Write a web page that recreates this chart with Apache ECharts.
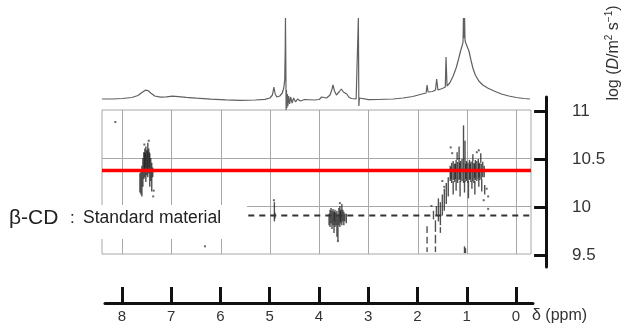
<!DOCTYPE html>
<html><head><meta charset="utf-8">
<script src="https://cdn.jsdelivr.net/npm/echarts@6/dist/echarts.min.js"></script>
<style>html,body{margin:0;padding:0;background:#fff}#c{width:621px;height:333px}</style>
</head><body><div id="c"></div>
<script>
// ---- data ----
const ppmTicks = [8, 7, 6, 5, 4, 3, 2, 1, 0];
const logDTicks = [9.5, 10, 10.5, 11];
const logDGrid = [10, 10.5];
const redLineLogD = 10.37;
const standardLogD = 9.9;
const standardFromPpm = 5.44;

// 1H spectrum trace [ppm, intensity]
const spectrum = [
[8.41,1],[8.2,1],[8.0,1.5],[7.8,2.5],[7.68,4.5],[7.6,7.5],[7.53,9.8],[7.48,9.5],[7.42,7],[7.34,4],[7.22,2.8],[7.1,3.2],[6.98,3.8],[6.86,3.4],[6.7,2.6],[6.5,1.8],[6.2,0.8],[5.9,0.2],[5.6,-0.3],[5.3,0],[5.1,0.6],[5.0,2],[4.95,5],[4.92,13],[4.895,6],[4.86,3],[4.8,4],[4.75,7],[4.72,12],[4.70,20],[4.69,50],[4.685,82],[4.678,40],[4.672,-10],[4.665,10],[4.655,-8],[4.645,6],[4.635,-6],[4.62,4],[4.60,-4],[4.58,3],[4.55,-3],[4.52,2],[4.48,-2],[4.44,1],[4.38,-1],[4.3,0.5],[4.1,0],[4.0,0.5],[3.97,1.5],[3.95,3],[3.93,1],[3.85,2],[3.78,5],[3.745,10],[3.72,15],[3.69,9],[3.65,5],[3.62,6],[3.59,8.5],[3.55,11],[3.51,8],[3.47,7.5],[3.44,6],[3.40,3],[3.35,1.5],[3.25,1],[3.215,0],[3.205,82],[3.195,-6],[3.185,2],[3.15,0],[3.0,0.3],[2.8,0.5],[2.5,1],[2.3,2],[2.1,3.5],[1.95,5.5],[1.83,7],[1.81,15],[1.79,8],[1.70,8.5],[1.64,10],[1.615,21],[1.59,10],[1.5,11.5],[1.44,13],[1.425,43],[1.405,14],[1.35,17],[1.28,24],[1.22,32],[1.17,41],[1.13,49],[1.10,54],[1.08,58],[1.072,82],[1.064,62],[1.055,60],[1.048,82],[1.04,60],[1.025,57],[1.0,55],[0.96,49],[0.92,40],[0.88,32],[0.83,25],[0.76,19],[0.68,15],[0.58,12],[0.45,9],[0.3,6],[0.15,4],[0,2.5],[-0.15,1.5],[-0.28,1]
];

// DOSY cross-peak streaks [ppm, logD low, logD high]
const streaksAromatic = [
[7.64,10.14,10.34],[7.62,10.12,10.38],[7.60,10.10,10.42],[7.58,10.20,10.50],[7.56,10.28,10.56],[7.54,10.30,10.60],[7.52,10.25,10.62],[7.50,10.32,10.58],[7.48,10.30,10.66],[7.46,10.34,10.60],[7.44,10.20,10.55],[7.42,10.26,10.50],[7.40,10.15,10.45],[7.38,10.30,10.40],[7.55,10.36,10.56],[7.49,10.36,10.58],[7.53,10.40,10.55],[7.45,10.40,10.56]
];
const streaksStdH1 = [
[4.91,9.84,10.04],[4.90,9.87,9.93]
];
const streaksStdRing = [
[3.80,9.80,9.92],[3.78,9.78,9.96],[3.76,9.82,9.98],[3.74,9.76,9.95],[3.72,9.80,9.97],[3.70,9.72,9.94],[3.68,9.78,9.96],[3.66,9.80,9.93],[3.64,9.68,9.95],[3.62,9.64,9.90],[3.60,9.80,9.98],[3.58,9.78,10.00],[3.56,9.82,9.96],[3.54,9.80,10.02],[3.52,9.84,9.96],[3.50,9.80,9.94],[3.48,9.84,9.92],[3.45,9.82,9.92],[3.69,9.84,9.94],[3.57,9.84,9.95]
];
const streaksAliphatic = [
[1.34,10.26,10.42],[1.31,10.24,10.45],[1.28,10.27,10.47],[1.25,10.25,10.44],[1.22,10.26,10.48],[1.19,10.24,10.46],[1.16,10.27,10.50],[1.13,10.25,10.47],[1.10,10.26,10.49],[1.07,10.24,10.84],[1.04,10.25,10.68],[1.01,10.26,10.47],[0.98,10.24,10.45],[0.95,10.27,10.48],[0.92,10.25,10.46],[0.89,10.26,10.47],[0.86,10.24,10.45],[0.83,10.27,10.48],[0.80,10.26,10.47],[0.77,10.28,10.49],[0.74,10.27,10.45],[0.71,10.28,10.44],[0.68,10.30,10.46],[0.65,10.30,10.42],
[1.325,10.28,10.40],[1.235,10.28,10.44],[1.145,10.28,10.45],[1.025,10.28,10.44],[0.935,10.28,10.44],[0.845,10.29,10.44],[0.755,10.30,10.44],
[1.28,10.12,10.26],[1.22,10.16,10.26],[1.14,10.10,10.26],[1.05,10.14,10.26],[0.97,10.08,10.26],[0.90,10.18,10.26],[0.84,10.12,10.26],[0.76,10.20,10.28],[0.70,10.15,10.28],[0.64,10.12,10.22],
[1.20,10.48,10.56],[0.88,10.47,10.54],[0.72,10.45,10.55],[1.16,10.49,10.62],
[1.38,10.10,10.30],[1.42,10.02,10.24],[1.46,9.95,10.18],[1.50,9.90,10.12],[1.54,9.80,10.04],[1.58,9.84,10.08],[1.62,9.90,10.00],[1.68,9.86,9.95],
[1.64,9.52,9.58],[1.64,9.61,9.70],[1.64,9.73,9.85],[1.81,9.52,9.57],[1.81,9.61,9.68],[1.81,9.72,9.79],[1.54,9.72,9.78],
[1.05,9.51,9.58],[1.03,9.51,9.56]
];
// isolated points [ppm, logD]
const dots = [
[7.46,10.68],[7.55,10.64],[7.37,10.10],[7.36,10.16],[4.92,10.06],[3.62,9.635],[3.58,10.03],
[1.33,10.61],[1.30,10.55],[0.80,10.56],[0.76,10.58],[0.60,10.18],[0.57,10.10],[0.66,10.06],[1.50,10.26],[1.46,10.20],[1.72,10.00],[0.57,9.97],
[8.14,10.875],[6.32,9.58]
];

// ---- chart ----
const X_MIN = -0.3, X_MAX = 8.41;
const FONT = 'Liberation Sans, Arial, sans-serif';
const chart = echarts.init(document.getElementById('c'), null, {renderer: 'canvas'});

function renderStreak(params, api) {
  const t = api.coord([api.value(0), api.value(2)]);
  const b = api.coord([api.value(0), api.value(1)]);
  return {type: 'rect', shape: {x: t[0] - 0.7, y: t[1], width: 1.4, height: Math.max(1, b[1] - t[1])},
          style: {fill: '#262626', opacity: 0.8}};
}
function renderVGrid(params, api) {
  const a = api.coord([api.value(0), 11]);
  const b = api.coord([api.value(0), 9.5]);
  const x = Math.round(a[0]) + 0.5;
  return {type: 'line', shape: {x1: x, y1: a[1], x2: x, y2: b[1]}, style: {stroke: '#a8a8a8', lineWidth: 1}};
}
function renderHGrid(params, api) {
  const a = api.coord([X_MAX, api.value(1)]);
  const b = api.coord([X_MIN, api.value(1)]);
  const y = Math.round(a[1]) + 0.5;
  return {type: 'line', shape: {x1: a[0], y1: y, x2: b[0], y2: y}, style: {stroke: '#a8a8a8', lineWidth: 1}};
}
const streakSeries = (name, data) => ({
  name, type: 'custom', xAxisIndex: 1, yAxisIndex: 1, renderItem: renderStreak,
  encode: {x: 0, y: [1, 2]}, data, z: 3, silent: true
});

const hiddenX = (gi, min, max) => ({gridIndex: gi, type: 'value', min, max, inverse: true, show: false});

chart.setOption({
  animation: false,
  backgroundColor: '#fff',
  grid: [
    {left: 102, right: 90, top: 0, height: 110},
    {left: 102, right: 90, top: 110, bottom: 79, show: true, borderColor: '#a8a8a8', borderWidth: 1, backgroundColor: 'transparent'},
    {left: 100, right: 59, top: 97, bottom: 66},
    {left: 105, right: 88, top: 280, bottom: 30}
  ],
  xAxis: [
    hiddenX(0, X_MIN, X_MAX),
    hiddenX(1, X_MIN, X_MAX),
    hiddenX(2, X_MIN, X_MAX),
    {gridIndex: 3, type: 'value', min: -0.345, max: 8.345, inverse: true, position: 'bottom',
     axisLine: {show: true, lineStyle: {color: '#111', width: 3}},
     axisTick: {show: true, inside: true, length: 16, lineStyle: {color: '#111', width: 3}, customValues: ppmTicks},
     axisLabel: {show: true, customValues: ppmTicks, margin: 6, color: '#333', fontSize: 15, fontFamily: FONT},
     splitLine: {show: false}}
  ],
  yAxis: [
    {gridIndex: 0, type: 'value', min: -10, max: 100, show: false},
    {gridIndex: 1, type: 'value', min: 9.5, max: 11, show: false},
    {gridIndex: 2, type: 'value', min: 9.375, max: 11.146, position: 'right',
     axisLine: {show: true, lineStyle: {color: '#111', width: 3}},
     axisTick: {show: true, inside: true, length: 12, lineStyle: {color: '#111', width: 3}, customValues: logDTicks},
     axisLabel: {show: true, customValues: logDTicks, margin: 10, color: '#333', fontSize: 17, fontFamily: FONT},
     splitLine: {show: false}},
    {gridIndex: 3, type: 'value', min: 0, max: 1, show: false}
  ],
  series: [
    {name: 'spectrum', type: 'line', xAxisIndex: 0, yAxisIndex: 0, data: spectrum, symbol: 'none',
     lineStyle: {color: '#606060', width: 1.2}, clip: false, silent: true},
    {name: 'vgrid', type: 'custom', xAxisIndex: 1, yAxisIndex: 1, renderItem: renderVGrid, encode: {x: 0},
     data: ppmTicks.map(v => [v, 10]), z: 1, silent: true},
    {name: 'hgrid', type: 'custom', xAxisIndex: 1, yAxisIndex: 1, renderItem: renderHGrid, encode: {x: 0, y: 1},
     data: logDGrid.map(v => [4, v]), z: 1, silent: true},
    streakSeries('aromatic', streaksAromatic),
    streakSeries('stdH1', streaksStdH1),
    streakSeries('stdRing', streaksStdRing),
    streakSeries('aliphatic', streaksAliphatic),
    {name: 'dots', type: 'scatter', xAxisIndex: 1, yAxisIndex: 1, data: dots, symbol: 'rect', symbolSize: 2,
     itemStyle: {color: '#444'}, z: 3, silent: true},
    {name: 'standard', type: 'line', xAxisIndex: 1, yAxisIndex: 1,
     data: [[standardFromPpm, standardLogD], [X_MIN, standardLogD]], symbol: 'none',
     lineStyle: {color: '#333', width: 2, type: [6, 5]}, z: 4, silent: true},
    {name: 'red', type: 'line', xAxisIndex: 1, yAxisIndex: 1,
     data: [[X_MAX, redLineLogD], [X_MIN, redLineLogD]], symbol: 'none',
     lineStyle: {color: '#ff0000', width: 3.5}, z: 5, silent: true}
  ],
  graphic: [
    {type: 'rect', shape: {x: 0, y: 205, width: 247, height: 34}, style: {fill: '#fff'}, z: 100, silent: true},
    {type: 'text', x: 9, y: 218, z: 101, style: {text: 'β-CD', fontSize: 21, fontFamily: FONT, fill: '#222', verticalAlign: 'middle', align: 'left'}},
    {type: 'text', x: 70, y: 218, z: 101, style: {text: ':', fontSize: 17, fontFamily: FONT, fill: '#222', verticalAlign: 'middle', align: 'left'}},
    {type: 'text', x: 83, y: 218, z: 101, style: {text: 'Standard material', fontSize: 17.5, fontFamily: FONT, fill: '#222', verticalAlign: 'middle', align: 'left'}},
    {type: 'text', x: 532, y: 316, z: 101, style: {text: 'δ (ppm)', fontSize: 16, fontFamily: FONT, fill: '#333', verticalAlign: 'middle', align: 'left'}},
    {type: 'text', x: 614, y: 53, rotation: Math.PI / 2, z: 101,
     style: {text: '{t|log (}{i|D}{t|/m}{s|2}{t| s}{s|−1}{t|)}', align: 'center', verticalAlign: 'middle',
       rich: {
         t: {fontSize: 16, fontFamily: FONT, fill: '#333', lineHeight: 20},
         i: {fontSize: 16, fontFamily: FONT, fill: '#333', fontStyle: 'italic', lineHeight: 20},
         s: {fontSize: 10, fontFamily: FONT, fill: '#333', verticalAlign: 'top', lineHeight: 20}
       }}}
  ]
});
</script>
</body></html>
